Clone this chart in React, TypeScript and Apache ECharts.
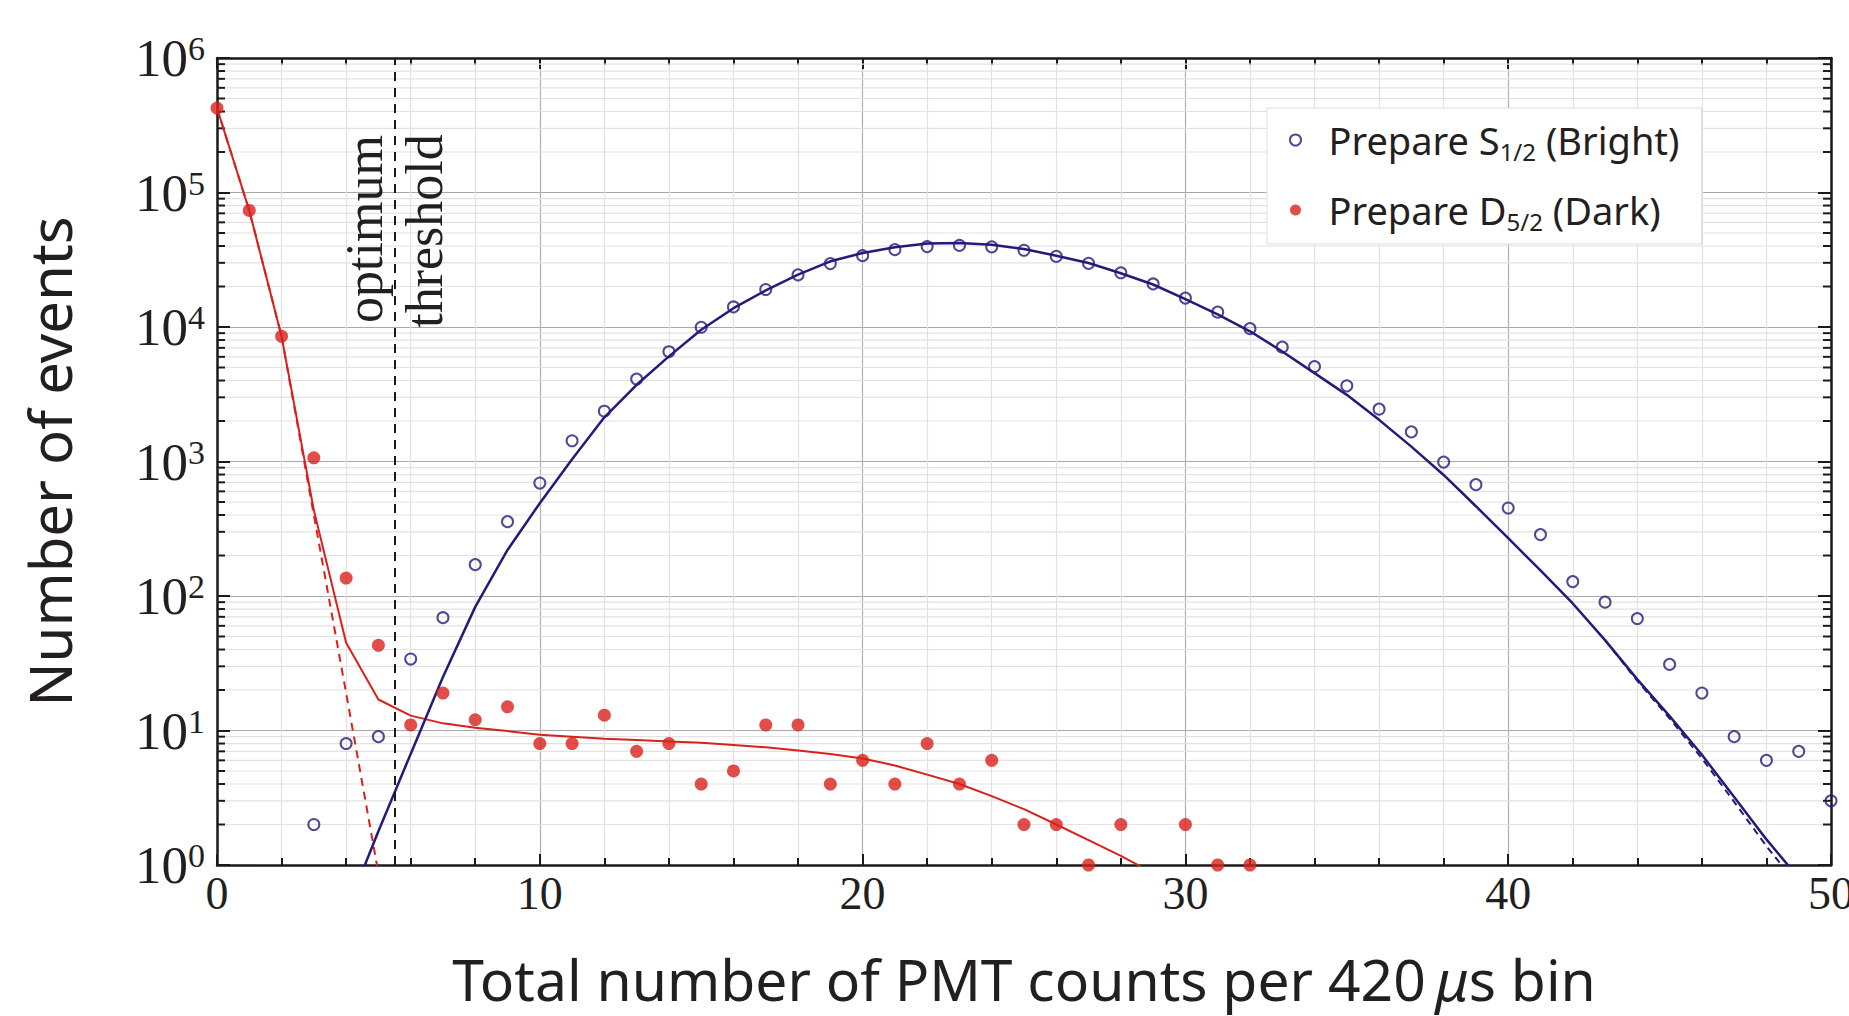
import React, { useEffect, useRef } from "react";
import * as echarts from "echarts";

// ---- data ----
const bins = [
  0, 1, 2, 3, 4, 5, 6, 7, 8, 9, 10, 11, 12, 13, 14, 15, 16, 17, 18, 19, 20, 21, 22, 23, 24, 25,
  26, 27, 28, 29, 30, 31, 32, 33, 34, 35, 36, 37, 38, 39, 40, 41, 42, 43, 44, 45, 46, 47, 48, 49, 50,
];

// Prepare S1/2 (Bright): measured histogram
const brightCounts = [
  null, null, null, 2, 8, 9, 34, 69, 171, 357,
  692, 1426, 2366, 4100, 6550, 9950, 14100, 19000, 24400, 29600,
  33900, 37600, 39600, 40400, 39400, 37200, 33500, 29700, 25300, 20900,
  16400, 12900, 9720, 7080, 5080, 3650, 2450, 1660, 990, 673,
  451, 286, 128, 90, 68, 31, 19, 9, 6, 7,
  3,
];

// Prepare D5/2 (Dark): measured histogram
const darkCounts = [
  424000, 73500, 8520, 1065, 136, 43, 11, 19, 12, 15,
  8, 8, 13, 7, 8, 4, 5, 11, 11, 4,
  6, 4, 8, 4, 6, 2, 2, 1, 2, null,
  2, 1, 1, null, null, null, null, null, null, null,
  null, null, null, null, null, null, null, null, null, null,
  null,
];

// Bright model (solid) and its dashed variant
const brightFit = [
  null, null, null, null, 0.45, 1.78, 6.7, 25, 83, 220,
  490, 1040, 2130, 3720, 6050, 9550, 13800, 18700, 24500, 30800,
  35500, 39100, 41700, 42200, 40900, 38000, 33900, 29900, 25100, 20700,
  16100, 12400, 9290, 6580, 4540, 3130, 2040, 1290, 794, 465,
  269, 155, 88, 47, 24, 12.8, 6.6, 3.2, 1.55, 0.8,
  null,
];
const brightFitDashed = [
  null, null, null, null, null, null, null, null, null, null,
  null, null, null, null, null, null, null, null, null, null,
  null, null, null, null, null, null, null, null, null, null,
  null, null, null, null, null, null, null, null, null, null,
  null, null, null, 47, 23.4, 12.3, 6.2, 2.95, 1.38, 0.69,
  null,
];

// Dark model (solid) and its dashed variant
const darkFit = [
  424000, 73500, 8520, 435, 45, 17, 12.9, 11.3, 10.5, 9.9,
  9.3, 9.0, 8.7, 8.5, 8.3, 8.1, 7.8, 7.5, 7.1, 6.7,
  6.2, 5.5, 4.7, 4.0, 3.25, 2.6, 2.0, 1.53, 1.17, 0.87,
];
const darkFitDashed = [424000, 73500, 8520, 400, 19, 0.87];

const thresholdX = 5.5;
const xMin = 0;
const xMax = 50;
const xInterval = 10;
const yMin = 1;
const yMax = 1000000;
const logDecades = [1, 10, 100, 1000, 10000, 100000];
const logMinorMultipliers = [2, 3, 4, 5, 6, 7, 8, 9];

const brightName = "Prepare S1/2 (Bright)";
const darkName = "Prepare D5/2 (Dark)";

const NAVY = "#241a7a";
const RED = "#d9211c";
const INK = "#231f20";
const AXIS = "#1a1a1a";

export default function App() {
  const ref = useRef<HTMLDivElement>(null);

  useEffect(() => {
    document.body.style.margin = "0";
    const chart = echarts.init(ref.current!, null, { renderer: "svg" });

    const pairs = (arr: (number | null)[]) =>
      arr
        .map((v, i) => [bins[i], v] as [number, number | null])
        .filter((p) => p[1] != null);

    const minorLogValues: number[] = [];
    logDecades.forEach((d) => logMinorMultipliers.forEach((m) => minorLogValues.push(d * m)));

    const supLabel = (v: number) => `{b|10}{s|${Math.round(Math.log10(v))}}`;

    const option: any = {
      animation: false,
      backgroundColor: "#ffffff",
      grid: {
        left: 217,
        right: 18,
        top: 58,
        bottom: 151,
        containLabel: false,
        outerBoundsMode: "none",
      },
      xAxis: [
        {
          type: "value",
          min: xMin,
          max: xMax,
          interval: xInterval,
          position: "bottom",
          name: "Total number of PMT counts per 420\u2009{i|μ}s bin",
          nameLocation: "middle",
          nameGap: 85,
          nameTextStyle: {
            fontFamily: "Noto Sans",
            fontSize: 57,
            color: INK,
            rich: {
              i: { fontFamily: "Noto Sans", fontSize: 57, fontStyle: "italic", color: INK },
            },
          },
          axisLine: { show: true, onZero: false, lineStyle: { color: AXIS, width: 2.5 } },
          axisTick: { show: true, inside: true, length: 11, lineStyle: { color: AXIS, width: 2 } },
          minorTick: { show: true, splitNumber: 5, length: 7, lineStyle: { color: AXIS, width: 2 } },
          axisLabel: { margin: 5, fontFamily: "Liberation Serif", fontSize: 46, color: INK },
          splitLine: { show: true, lineStyle: { color: "#b0b0b0", width: 1.2 } },
          minorSplitLine: { show: true, lineStyle: { color: "#e2e2e2", width: 1.2 } },
        },
        {
          type: "value",
          min: xMin,
          max: xMax,
          interval: xInterval,
          position: "top",
          axisLine: { show: true, onZero: false, lineStyle: { color: AXIS, width: 2.5 } },
          axisTick: { show: true, inside: true, length: 11, lineStyle: { color: AXIS, width: 2 } },
          minorTick: { show: true, splitNumber: 5, length: 7, lineStyle: { color: AXIS, width: 2 } },
          axisLabel: { show: false },
          splitLine: { show: false },
        },
      ],
      yAxis: [
        {
          type: "log",
          logBase: 10,
          min: yMin,
          max: yMax,
          position: "left",
          name: "Number of events",
          nameLocation: "middle",
          nameGap: 139,
          nameTextStyle: { fontFamily: "Noto Sans", fontSize: 58, color: INK },
          axisLine: { show: true, onZero: false, lineStyle: { color: AXIS, width: 2.5 } },
          axisTick: { show: true, inside: true, length: 13, lineStyle: { color: AXIS, width: 2 } },
          axisLabel: {
            margin: 12,
            formatter: supLabel,
            rich: {
              b: { fontFamily: "Liberation Serif", fontSize: 53, lineHeight: 53, color: INK },
              s: {
                fontFamily: "Liberation Serif",
                fontSize: 34,
                lineHeight: 34,
                verticalAlign: "top",
                color: INK,
              },
            },
          },
          splitLine: { show: true, lineStyle: { color: "#a8a8a8", width: 1.2 } },
        },
        {
          type: "log",
          logBase: 10,
          min: yMin,
          max: yMax,
          position: "right",
          axisLine: { show: true, onZero: false, lineStyle: { color: AXIS, width: 2.5 } },
          axisTick: { show: true, inside: true, length: 13, lineStyle: { color: AXIS, width: 2 } },
          axisLabel: { show: false },
          splitLine: { show: false },
        },
      ],
      legend: {
        orient: "vertical",
        left: 1267,
        top: 108,
        padding: [9, 22, 11, 22],
        itemGap: 24,
        itemWidth: 56,
        itemHeight: 11,
        backgroundColor: "#ffffff",
        borderColor: "#dedede",
        borderWidth: 1,
        data: [
          { name: brightName, icon: "circle" },
          { name: darkName, icon: "circle" },
        ],
        formatter: (n: string) =>
          n === brightName ? "Prepare S{sub|1/2} (Bright)" : "Prepare D{sub|5/2} (Dark)",
        textStyle: {
          fontFamily: "Noto Sans",
          fontSize: 38,
          lineHeight: 46,
          color: INK,
          rich: {
            sub: {
              fontFamily: "Noto Sans",
              fontSize: 24,
              lineHeight: 24,
              verticalAlign: "bottom",
              color: INK,
            },
          },
        },
      },
      graphic: [
        {
          type: "text",
          x: 364,
          y: 229,
          rotation: Math.PI / 2,
          z: 10,
          style: {
            text: "optimum",
            fontFamily: "Liberation Serif",
            fontSize: 52,
            fill: INK,
            align: "center",
            verticalAlign: "middle",
            textAlign: "center",
            textVerticalAlign: "middle",
          },
        },
        {
          type: "text",
          x: 424,
          y: 231,
          rotation: Math.PI / 2,
          z: 10,
          style: {
            text: "threshold",
            fontFamily: "Liberation Serif",
            fontSize: 52,
            fill: INK,
            align: "center",
            verticalAlign: "middle",
            textAlign: "center",
            textVerticalAlign: "middle",
          },
        },
      ],
      series: [
        {
          type: "custom",
          name: "minor-grid",
          silent: true,
          clip: false,
          z: 1,
          data: minorLogValues.map((v) => [xMin, v]),
          encode: { x: 0, y: 1 },
          renderItem: (params: any, api: any) => {
            const v = api.value(1);
            const a = api.coord([xMin, v]);
            const b = api.coord([xMax, v]);
            return {
              type: "group",
              children: [
                {
                  type: "line",
                  shape: { x1: a[0], y1: a[1], x2: b[0], y2: b[1] },
                  style: { stroke: "#e2e2e2", lineWidth: 1.2 },
                },
                {
                  type: "line",
                  shape: { x1: a[0], y1: a[1], x2: a[0] + 8, y2: a[1] },
                  style: { stroke: AXIS, lineWidth: 2 },
                },
                {
                  type: "line",
                  shape: { x1: b[0] - 8, y1: b[1], x2: b[0], y2: b[1] },
                  style: { stroke: AXIS, lineWidth: 2 },
                },
              ],
            };
          },
        },
        {
          type: "line",
          name: "dark-model-dashed",
          data: pairs(darkFitDashed),
          showSymbol: false,
          symbol: "none",
          clip: true,
          z: 3,
          lineStyle: { color: RED, width: 2, type: [8, 6] },
        },
        {
          type: "line",
          name: "dark-model",
          data: pairs(darkFit),
          showSymbol: false,
          symbol: "none",
          clip: true,
          z: 3,
          lineStyle: { color: RED, width: 2 },
          markLine: {
            silent: true,
            symbol: ["none", "none"],
            label: { show: false },
            lineStyle: { color: AXIS, width: 2, type: [9, 7] },
            data: [{ xAxis: thresholdX }],
          },
        },
        {
          type: "line",
          name: "bright-model-dashed",
          data: pairs(brightFitDashed),
          showSymbol: false,
          symbol: "none",
          clip: true,
          z: 3,
          lineStyle: { color: NAVY, width: 2, type: [7, 5] },
        },
        {
          type: "line",
          name: "bright-model",
          data: pairs(brightFit),
          showSymbol: false,
          symbol: "none",
          clip: true,
          z: 3,
          lineStyle: { color: NAVY, width: 2.5 },
        },
        {
          type: "scatter",
          name: darkName,
          data: pairs(darkCounts),
          symbol: "circle",
          symbolSize: 13,
          z: 5,
          itemStyle: { color: RED },
        },
        {
          type: "scatter",
          name: brightName,
          data: pairs(brightCounts),
          symbol: "circle",
          symbolSize: 11,
          z: 5,
          itemStyle: { color: "rgba(255,255,255,0)", borderColor: NAVY, borderWidth: 2 },
        },
      ],
    };

    chart.setOption(option);
    return () => chart.dispose();
  }, []);

  return (
    <div
      ref={ref}
      style={{ position: "absolute", left: 0, top: 0, width: 1849, height: 1016, background: "#ffffff" }}
    />
  );
}
